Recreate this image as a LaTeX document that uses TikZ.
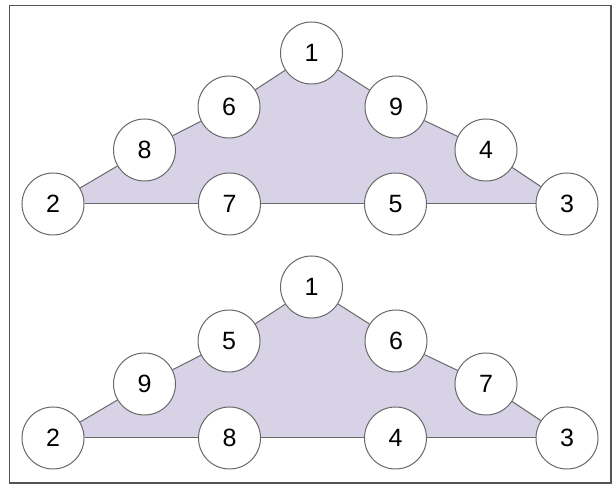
\documentclass[tikz,border=0pt]{standalone}
\usepackage{fontspec}
\setmainfont{Liberation Sans}
\usetikzlibrary{backgrounds}
\definecolor{lav}{RGB}{216,210,230}
\definecolor{edgegray}{RGB}{105,105,105}
\definecolor{framegray}{RGB}{85,85,85}
\begin{document}
\begin{tikzpicture}[x=1pt,y=-1pt,
  num/.style={circle,draw=edgegray,line width=1pt,fill=white,
    minimum size=62pt,inner sep=0pt,font=\fontsize{25}{25}\selectfont},
  link/.style={draw=edgegray,line width=1pt},
  region/.style={fill=lav}]
\useasboundingbox (0,0) rectangle (614,486);
\draw[framegray,line width=1.4pt] (9.5,5.5) rectangle (611,483);

% upper triangle
\node[num] (t1) at (311.5,53) {1};
\node[num] (t6) at (229,107) {6};
\node[num] (t9) at (396,107) {9};
\node[num] (t8) at (144.5,150) {8};
\node[num] (t4) at (486,150) {4};
\node[num] (t2) at (53,204) {2};
\node[num] (t7) at (229.5,204) {7};
\node[num] (t5) at (395.5,204) {5};
\node[num] (t3) at (567,204) {3};

% lower triangle
\begin{scope}[yshift=-234pt]
\node[num] (b1) at (311.5,53) {1};
\node[num] (b5) at (229,107) {5};
\node[num] (b6) at (396,107) {6};
\node[num] (b9) at (144.5,150) {9};
\node[num] (b7) at (486,150) {7};
\node[num] (b2) at (53,204) {2};
\node[num] (b8) at (229.5,204) {8};
\node[num] (b4) at (395.5,204) {4};
\node[num] (b3) at (567,204) {3};
\end{scope}

\begin{pgfonlayer}{background}
  \fill[region] (t2.center) -- (t8.center) -- (t6.center) -- (t1.center)
    -- (t9.center) -- (t4.center) -- (t3.center) -- (t5.center)
    -- (t7.center) -- cycle;
  \path[link] (t2) -- (t8) -- (t6) -- (t1) -- (t9) -- (t4) -- (t3);
  \path[link] (t2) -- (t7) -- (t5) -- (t3);
  \fill[region] (b2.center) -- (b9.center) -- (b5.center) -- (b1.center)
    -- (b6.center) -- (b7.center) -- (b3.center) -- (b4.center)
    -- (b8.center) -- cycle;
  \path[link] (b2) -- (b9) -- (b5) -- (b1) -- (b6) -- (b7) -- (b3);
  \path[link] (b2) -- (b8) -- (b4) -- (b3);
\end{pgfonlayer}
\end{tikzpicture}
\end{document}
